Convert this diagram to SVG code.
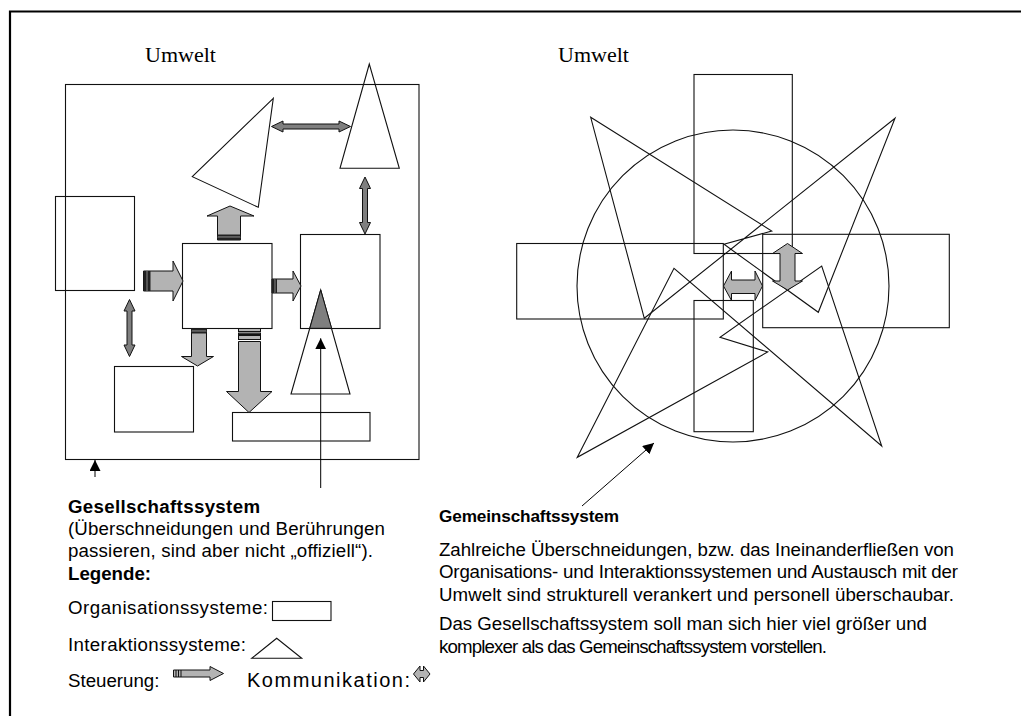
<svg xmlns="http://www.w3.org/2000/svg" width="1021" height="716" viewBox="0 0 1021 716">
<style>
.ln{fill:none;stroke:#111;stroke-width:1.1}
.st{fill:#b3b3b3;stroke:#111;stroke-width:1}
.km{fill:#7f7f7f;stroke:#111;stroke-width:1}
.bar{fill:#222}
.tr{font-family:"Liberation Serif","Times New Roman",serif;font-size:22px;fill:#000}
.tl{font-family:"Liberation Sans",Arial,sans-serif;font-size:18.7px;fill:#000}
.tb{font-weight:bold}
</style>
<defs>
<marker id="ah" viewBox="0 0 10 10" refX="10" refY="5" markerWidth="11" markerHeight="11" markerUnits="userSpaceOnUse" orient="auto">
<path d="M0,0 L10,5 L0,10 Z" fill="#000"/>
</marker>
</defs>
<rect width="1021" height="716" fill="#fff"/>
<g id="frame">
<path d="M10,716 V11.5 H1021" fill="none" stroke="#000" stroke-width="2.2"/>
</g>

<g id="left-diagram">
<text class="tr" x="145" y="62">Umwelt</text>
<g id="gesellschaft"><rect class="ln" x="65.5" y="84.5" width="353.5" height="375"/></g>
<g id="org-left"><rect class="ln" x="55.5" y="196.5" width="79" height="94"/></g>
<g id="org-center"><rect class="ln" x="182.5" y="243.5" width="89.5" height="85"/></g>
<g id="org-right"><rect class="ln" x="300.5" y="234.5" width="79.5" height="94"/></g>
<g id="org-bottomleft"><rect class="ln" x="114.5" y="366.5" width="79" height="65.5"/></g>
<g id="org-bottom"><rect class="ln" x="232.5" y="412.5" width="137.5" height="28.5"/></g>
<g id="int-top"><polygon class="ln" points="369.3,64 340,168.3 399.3,168.3"/></g>
<g id="int-tilted"><polygon class="ln" points="273.3,98.3 192.3,176.7 258.3,207.3"/></g>
<g id="int-bottom">
<polygon class="ln" points="320.7,290 291,394 350,394"/>
<polygon points="320.7,290 331.6,328.3 309.8,328.3" fill="#7f7f7f" stroke="#111" stroke-width="1"/>
</g>
</g>

<g id="right-diagram">
<text class="tr" x="558" y="62">Umwelt</text>
<g id="gemeinschaft"><circle class="ln" cx="733" cy="286" r="156"/></g>
<g id="org-r-top"><rect class="ln" x="694" y="74.5" width="98.3" height="179"/></g>
<g id="org-r-bottom"><rect class="ln" x="694" y="300.5" width="59.3" height="131.2"/></g>
<g id="org-r-left"><rect class="ln" x="516.7" y="243.5" width="206.6" height="75.5"/></g>
<g id="org-r-right"><rect class="ln" x="762.7" y="234.3" width="186.6" height="93.4"/></g>
<g id="int-r-top"><polygon class="ln" points="590.7,117.3 771.7,231 724,244.3 818.3,312.3 895,118.3 644.3,318.3"/></g>
<g id="int-r-bottom"><polygon class="ln" points="577.3,457.3 674,268.3 881.7,446 821.7,266 720,337.3 767.7,352"/></g>
</g>

<g id="connectors">
<path class="km" d="M271.5,126.5 L283,121 V124 H339 V121 L350.5,126.5 L339,132 V129 H283 V132 Z"/>
<path class="km" d="M365,177 L370.5,188.5 H367.5 V222.5 H370.5 L365,234 L359.5,222.5 H362.5 V188.5 H359.5 Z"/>
<path class="km" d="M129.5,299.5 L135,311 H132 V345 H135 L129.5,356.5 L124,345 H127 V311 H124 Z"/>
<path class="st" d="M143.5,271 H173 V261 L183,281 L173,301 V291 H143.5 Z"/>
<rect class="bar" x="143.5" y="271" width="2.5" height="20"/>
<rect x="146" y="271" width="2" height="20" fill="#555"/>
<rect class="bar" x="148" y="271" width="2.5" height="20"/>
<path class="st" d="M272,279 H293 V271 L301,286 L293,301 V293 H272 Z"/>
<rect class="bar" x="272" y="279" width="2" height="14"/>
<rect x="274" y="279" width="1.5" height="14" fill="#555"/>
<rect class="bar" x="275.5" y="279" width="1.5" height="14"/>
<path class="st" d="M217.5,240 V216 H207 L230,206 L254,216 H240.5 V240 Z"/>
<rect class="bar" x="217.5" y="234.5" width="23" height="2"/>
<rect x="217.5" y="236.5" width="23" height="1.5" fill="#555"/>
<rect class="bar" x="217.5" y="238" width="23" height="2"/>
<path class="st" d="M191.5,328.5 V356.5 H181.5 L197.5,366 L213.5,356.5 H206.5 V328.5 Z"/>
<rect class="bar" x="191.5" y="328.5" width="15" height="2"/>
<rect x="191.5" y="330.5" width="15" height="1.5" fill="#555"/>
<rect class="bar" x="191.5" y="332" width="15" height="1.5"/>
<path class="st" d="M238.5,341.5 V391.5 H226.5 L249,412.5 L272,391.5 H260.5 V341.5 Z"/>
<rect class="st" x="238.5" y="328.5" width="22" height="3"/>
<rect class="st" x="238.5" y="333" width="22" height="1.5" style="fill:#666"/>
<rect class="st" x="238.5" y="335.5" width="22" height="4"/>
<line x1="95" y1="477" x2="95" y2="460" stroke="#000" stroke-width="1" marker-end="url(#ah)"/>
<line x1="320.7" y1="488" x2="320.7" y2="338.3" stroke="#000" stroke-width="1" marker-end="url(#ah)"/>
<line x1="582" y1="506" x2="654" y2="443" stroke="#000" stroke-width="1" marker-end="url(#ah)"/>
<path class="st" d="M787.5,243.5 L802.5,253.5 H795 V281 H802.5 L787.5,290 L772.5,281 H780 V253.5 H772.5 Z"/>
<path class="st" d="M723.5,286 L731.5,271 V280 H755 V271 L762.5,286 L755,300.5 V293.5 H731.5 V300.5 Z"/>
</g>

<g id="left-text">
<text class="tl tb" x="68" y="513" textLength="192" lengthAdjust="spacing">Gesellschaftssystem</text>
<text class="tl" x="68" y="535" textLength="317" lengthAdjust="spacing">(Überschneidungen und Berührungen</text>
<text class="tl" x="68" y="557" textLength="305" lengthAdjust="spacing">passieren, sind aber nicht „offiziell“).</text>
<text class="tl tb" x="68" y="580">Legende:</text>
<text class="tl" x="68" y="614" textLength="200" lengthAdjust="spacing">Organisationssysteme:</text>
<rect class="ln" x="272.5" y="601.5" width="58.5" height="19"/>
<text class="tl" x="68" y="651" textLength="178" lengthAdjust="spacing">Interaktionssysteme:</text>
<polygon class="ln" points="276.7,638.3 251.7,658.3 301.7,658.3"/>
<text class="tl" x="68" y="687">Steuerung:</text>
<path class="st" d="M173.5,670 H210 V666.5 L223.5,673.5 L210,680.5 V677 H173.5 Z"/>
<line x1="176" y1="670" x2="176" y2="677" stroke="#111" stroke-width="1"/>
<line x1="178.5" y1="670" x2="178.5" y2="677" stroke="#111" stroke-width="1"/>
<line x1="181" y1="670" x2="181" y2="677" stroke="#111" stroke-width="1"/>
<text class="tl" x="247" y="687" style="font-size:20px" textLength="163" lengthAdjust="spacing">Kommunikation:</text>
<path class="st" d="M413.5,674 L420,666 V670.5 H423.5 V666 L430,674 L423.5,682 V677.5 H420 V682 Z"/>
</g>

<g id="right-text">
<text class="tl tb" x="439" y="522" style="font-size:17.2px" textLength="180" lengthAdjust="spacing">Gemeinschaftssystem</text>
<text class="tl" x="439" y="556" textLength="515" lengthAdjust="spacing">Zahlreiche Überschneidungen, bzw. das Ineinanderfließen von</text>
<text class="tl" x="439" y="578" textLength="519" lengthAdjust="spacing">Organisations- und Interaktionssystemen und Austausch mit der</text>
<text class="tl" x="439" y="600.5" textLength="515" lengthAdjust="spacing">Umwelt sind strukturell verankert und personell überschaubar.</text>
<text class="tl" x="439" y="630" textLength="488" lengthAdjust="spacing">Das Gesellschaftssystem soll man sich hier viel größer und</text>
<text class="tl" x="439" y="652.5" textLength="388" lengthAdjust="spacing">komplexer als das Gemeinschaftssystem vorstellen.</text>
</g>
</svg>
